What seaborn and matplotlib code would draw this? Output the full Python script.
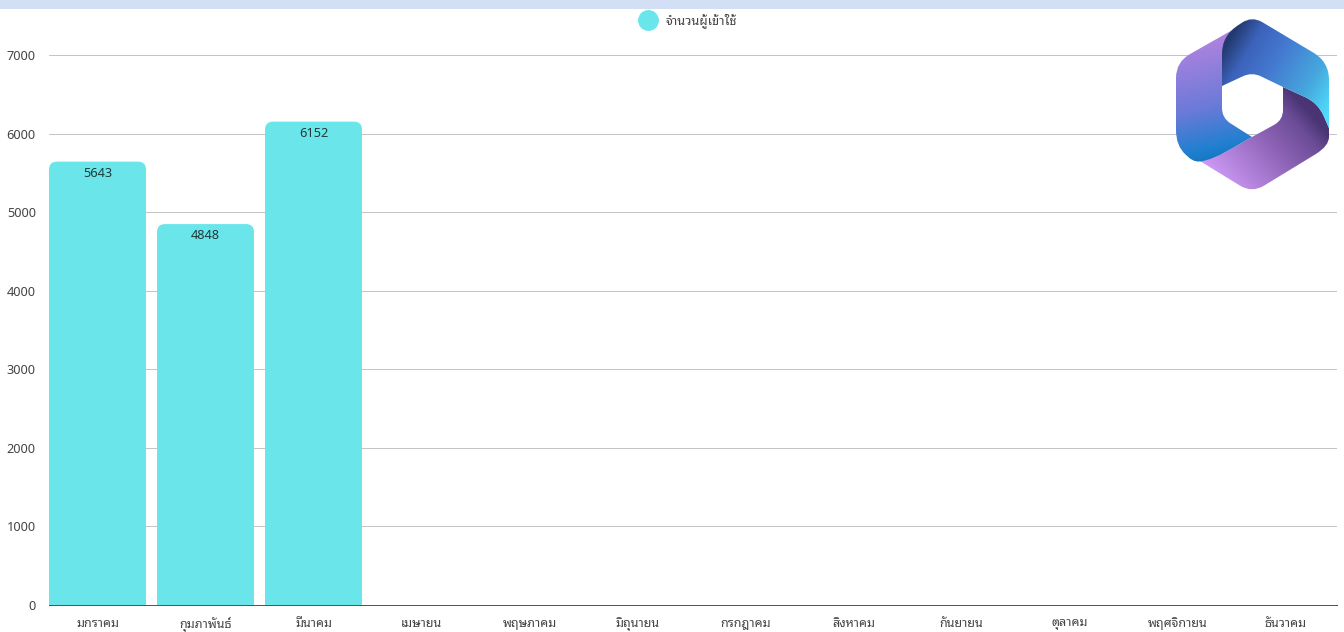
import numpy as np
import pandas as pd
import seaborn as sns
import matplotlib
matplotlib.use('Agg')
import matplotlib.pyplot as plt
from matplotlib.colors import LinearSegmentedColormap
from matplotlib.lines import Line2D
from matplotlib.patches import FancyBboxPatch, PathPatch, Rectangle
from matplotlib.path import Path

months = ['มกราคม', 'กุมภาพันธ์', 'มีนาคม', 'เมษายน', 'พฤษภาคม', 'มิถุนายน',
          'กรกฎาคม', 'สิงหาคม', 'กันยายน', 'ตุลาคม', 'พฤศจิกายน', 'ธันวาคม']
users = [5643, 4848, 6152, np.nan, np.nan, np.nan, np.nan, np.nan, np.nan, np.nan, np.nan, np.nan]
y_ticks = [0, 1000, 2000, 3000, 4000, 5000, 6000, 7000]
series_name = 'จำนวนผู้เข้าใช้'

W, H = 1344, 632
BAR_COLOR = '#6ae6ea'

sns.set_theme(style='white')
plt.rcParams['font.family'] = ['Noto Sans Thai Looped', 'Noto Sans', 'DejaVu Sans']

fig = plt.figure(figsize=(W / 100, H / 100), dpi=100)
# axes box in pixels: gridlines run 49..1337, y=0 at 605, 7000 at 55
left, right, bottom, top = 49, 1337, 605, 10
ax = fig.add_axes([left / W, 1 - bottom / H, (right - left) / W, (bottom - top) / H])

df = pd.DataFrame({'month': months, 'users': users})
sns.barplot(data=df, x='month', y='users', order=months, color=BAR_COLOR, saturation=1,
            width=97 / 108, ax=ax, zorder=3)

px_per_cat = 108
px_per_unit = 550 / 7000
ax.set_xlim(-0.5 + 5.5 / px_per_cat, -0.5 + (right - 43.5) / px_per_cat)
ax.set_ylim(0, (bottom - top) / px_per_unit)
ax.set_yticks(y_ticks)
ax.set_xlabel('')
ax.set_ylabel('')
ax.yaxis.grid(True, color='#c4c4c4', linewidth=0.72)
ax.set_axisbelow(True)
ax.tick_params(axis='both', length=0, labelcolor='#444444')
ax.tick_params(axis='y', pad=9.5, labelsize=9.2)
ax.tick_params(axis='x', pad=8.5, labelsize=9)
for s in ['top', 'right', 'left']:
    ax.spines[s].set_visible(False)
ax.spines['bottom'].set_color('#555555')
ax.spines['bottom'].set_linewidth(0.72)

# rounded top corners: the seaborn bars give the geometry, a rounded box that
# runs below the baseline is what shows
r_px = 8
for bar in ax.containers[0]:
    if np.isnan(bar.get_height()) or bar.get_height() == 0:
        continue
    box = FancyBboxPatch((bar.get_x(), -500), bar.get_width(), bar.get_height() + 500,
                         boxstyle='round,pad=0,rounding_size=%f' % (r_px / px_per_cat),
                         mutation_aspect=px_per_cat / px_per_unit,
                         facecolor=BAR_COLOR, edgecolor='none', zorder=3)
    ax.add_patch(box)
    bar.set_alpha(0)

ax.bar_label(ax.containers[0], fmt='%d', label_type='edge', padding=-13, fontsize=9.2, color='#1f3a3c')

handle = Line2D([], [], linestyle='none', marker='o', markersize=14, color=BAR_COLOR)
ax.legend([handle], [series_name], loc='center', bbox_to_anchor=(686 / W, 1 - 21 / H),
          bbox_transform=fig.transFigure, frameon=False, fontsize=9.2, labelcolor='#444444',
          handletextpad=0.35)

# overlay in pixel coordinates for the top band and the logo
over = fig.add_axes([0, 0, 1, 1], zorder=5)
over.patch.set_alpha(0)
over.axis('off')
over.set_xlim(0, W)
over.set_ylim(H, 0)
over.add_patch(Rectangle((0, 0), W, 9, facecolor='#d3dff5', edgecolor='none'))


def rounded(points):
    # points are (x, y, radius), corners become quadratic curves
    verts, codes = [], []
    n = len(points)
    for i in range(n):
        x, y, r = points[i]
        px, py, _ = points[i - 1]
        nx, ny, _ = points[(i + 1) % n]
        p = np.array([x, y], dtype=float)
        a = np.array([px, py], dtype=float) - p
        b = np.array([nx, ny], dtype=float) - p
        start = p + a / np.linalg.norm(a) * min(r, np.linalg.norm(a) / 2)
        end = p + b / np.linalg.norm(b) * min(r, np.linalg.norm(b) / 2)
        verts.append(start)
        codes.append(Path.MOVETO if i == 0 else Path.LINETO)
        if r > 0:
            verts += [p, end]
            codes += [Path.CURVE3, Path.CURVE3]
    verts.append(verts[0])
    codes.append(Path.CLOSEPOLY)
    return Path(verts, codes)


def ribbon(points, colors, p0, p1):
    # linear gradient from p0 to p1, filled into the ribbon shape
    xs = np.linspace(1170, 1335, 200)
    ys = np.linspace(12, 197, 200)
    gx, gy = np.meshgrid(xs, ys)
    d = np.array(p1, dtype=float) - np.array(p0, dtype=float)
    t = ((gx - p0[0]) * d[0] + (gy - p0[1]) * d[1]) / (d @ d)
    cmap = LinearSegmentedColormap.from_list('rib', colors)
    im = over.imshow(np.clip(t, 0, 1), cmap=cmap, vmin=0, vmax=1, aspect='auto',
                     extent=(1170, 1335, 197, 12), interpolation='bilinear')
    patch = PathPatch(rounded(points), transform=over.transData, facecolor='none', edgecolor='none')
    over.add_patch(patch)
    im.set_clip_path(patch)


# bottom ribbon
ribbon([(1283, 87, 0), (1318, 103, 14), (1329, 128, 0), (1329, 146, 16), (1252, 193, 14), (1195, 158, 0),
        (1215, 158, 12), (1252, 137, 0), (1283, 120, 10)],
       [(0, '#cc99f5'), (0.55, '#8e63b6'), (0.85, '#6a4c96'), (1, '#4a3474')], (1210, 170), (1295, 95))
# left ribbon
ribbon([(1250, 20, 0), (1222, 60, 0), (1222, 118, 10), (1252, 137, 0), (1215, 158, 12), (1195, 163, 8),
        (1176, 146, 16), (1176, 62, 16)],
       [(0, '#b583e0'), (0.55, '#6a7ad8'), (0.85, '#2080d0'), (1, '#0f70b8')], (1195, 35), (1225, 165))
# top ribbon
ribbon([(1222, 86, 0), (1222, 36, 18), (1252, 16, 12), (1329, 62, 18), (1329, 128, 0),
        (1318, 103, 14), (1283, 87, 0), (1252, 72, 10)],
       [(0, '#23396f'), (0.18, '#3c63bb'), (0.4, '#4478cf'), (0.75, '#46a8de'), (1, '#4fe0fc')],
       (1222, 50), (1329, 115))
over.set_xlim(0, W)
over.set_ylim(H, 0)

fig.savefig('out.png', dpi=100)
